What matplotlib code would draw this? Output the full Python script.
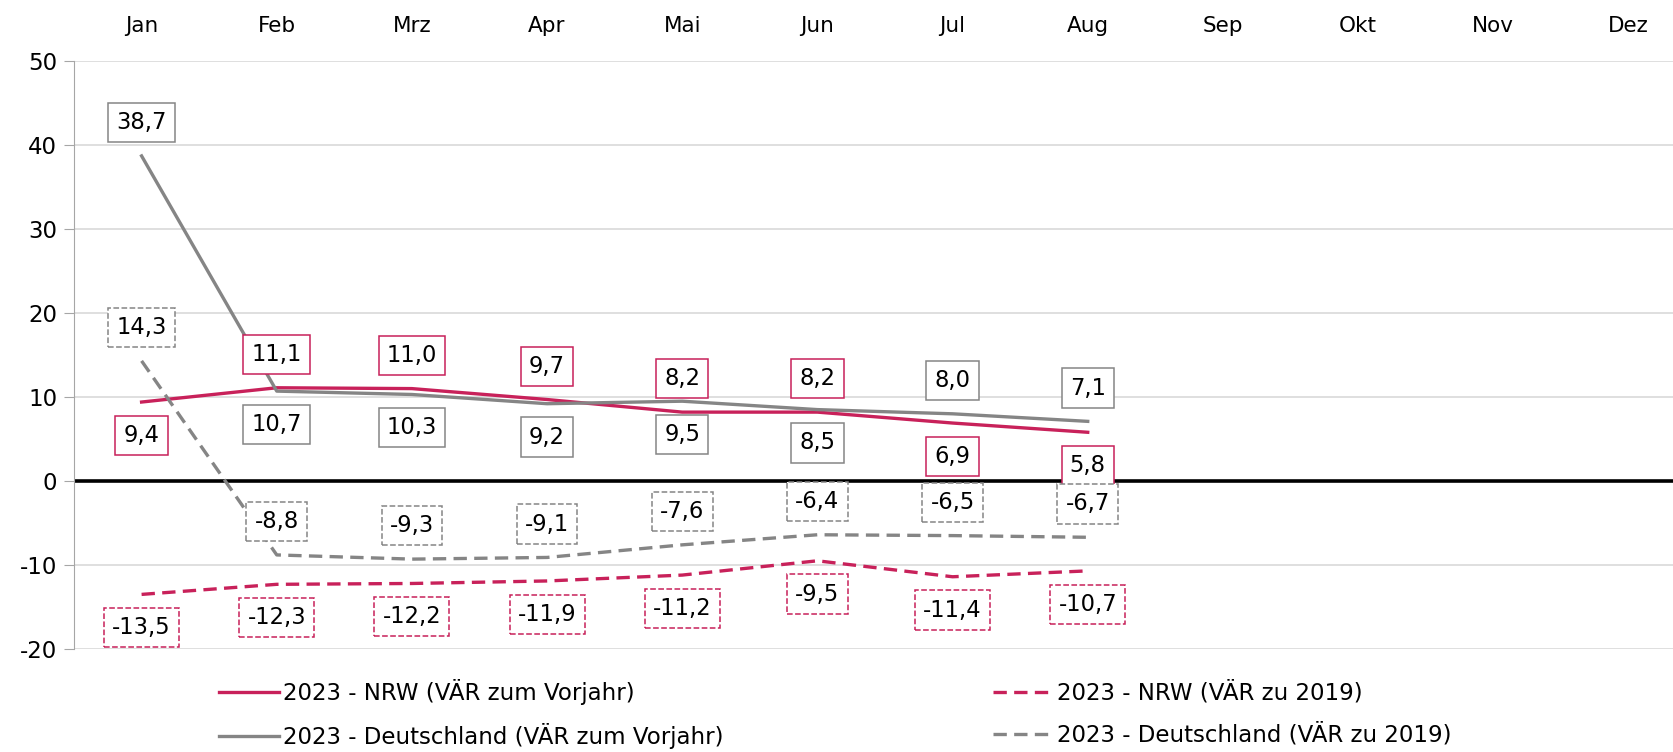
import matplotlib.pyplot as plt
import numpy as np

plt.rcParams['axes.unicode_minus'] = False

monate = ['Jan', 'Feb', 'Mrz', 'Apr', 'Mai', 'Jun', 'Jul', 'Aug', 'Sep', 'Okt', 'Nov', 'Dez']

nrw_vj = [9.4, 11.1, 11.0, 9.7, 8.2, 8.2, 6.9, 5.8]
de_vj = [38.7, 10.7, 10.3, 9.2, 9.5, 8.5, 8.0, 7.1]
nrw_19 = [-13.5, -12.3, -12.2, -11.9, -11.2, -9.5, -11.4, -10.7]
de_19 = [14.3, -8.8, -9.3, -9.1, -7.6, -6.4, -6.5, -6.7]

# Lage der Beschriftung: +1 oberhalb, -1 unterhalb
nrw_vj_pos = [-1, 1, 1, 1, 1, 1, -1, -1]
de_vj_pos = [1, -1, -1, -1, -1, -1, 1, 1]
nrw_19_pos = [-1] * 8
de_19_pos = [1] * 8

namen = ['2023 - NRW (VÄR zum Vorjahr)', '2023 - Deutschland (VÄR zum Vorjahr)',
         '2023 - NRW (VÄR zu 2019)', '2023 - Deutschland (VÄR zu 2019)']

ROT = '#C8215A'
GRAU = '#858585'

fig = plt.figure(figsize=(16.73, 7.52), dpi=100)
ax = fig.add_axes([74 / 1673, 1 - 649 / 752, 1 - 74 / 1673, (649 - 61) / 752])

x = np.arange(len(nrw_vj))
ax.set_xlim(-0.5, 11.33)
ax.set_ylim(-20, 50)
ax.set_yticks(range(-20, 51, 10))
ax.set_xticks(range(len(monate)))
ax.set_xticklabels(monate, fontsize=15.5)
ax.xaxis.tick_top()
ax.tick_params(axis='x', length=0, pad=18)
ax.tick_params(axis='y', labelsize=16.5, length=7, color='#A6A6A6', pad=5)
ax.grid(axis='y', color='#D9D9D9', lw=1.2)
ax.set_axisbelow(True)
for s in ['top', 'right', 'bottom']:
    ax.spines[s].set_visible(False)
ax.spines['left'].set_color('#A6A6A6')
ax.axhline(0, color='black', lw=2.6, zorder=2)

l1, = ax.plot(x, nrw_vj, color=ROT, lw=2.4, zorder=3)
l2, = ax.plot(x, de_vj, color=GRAU, lw=2.4, zorder=3)
l3, = ax.plot(x, nrw_19, color=ROT, lw=2.4, ls=(0, (4, 2.2)), zorder=3)
l4, = ax.plot(x, de_19, color=GRAU, lw=2.4, ls=(0, (4, 2.2)), zorder=3)


def beschriften(werte, lage, farbe, stil):
    for i, v in enumerate(werte):
        txt = ('%.1f' % v).replace('.', ',')
        ax.annotate(txt, (i, v), xytext=(0, 24 * lage[i]), textcoords='offset points',
                    ha='center', va='center', fontsize=16.3, zorder=5,
                    bbox=dict(boxstyle='square,pad=0.36', fc='white', ec=farbe,
                              lw=1.1, ls=stil))


beschriften(nrw_vj, nrw_vj_pos, ROT, '-')
beschriften(de_vj, de_vj_pos, GRAU, '-')
beschriften(nrw_19, nrw_19_pos, ROT, '--')
beschriften(de_19, de_19_pos, GRAU, '--')

leg1 = fig.legend([l1, l2], namen[:2], loc='center left', bbox_to_anchor=(203 / 1673, 1 - 714 / 752),
                  frameon=False, fontsize=16.5, handlelength=2.6, handletextpad=0.2, labelspacing=0.8,
                  borderpad=0.2)
leg2 = fig.legend([l3, l4], namen[2:], loc='center left', bbox_to_anchor=(977 / 1673, 1 - 714 / 752),
                  frameon=False, fontsize=16.5, handlelength=2.6, handletextpad=0.2, labelspacing=0.8,
                  borderpad=0.2)

fig.savefig('out.png', dpi=100)
